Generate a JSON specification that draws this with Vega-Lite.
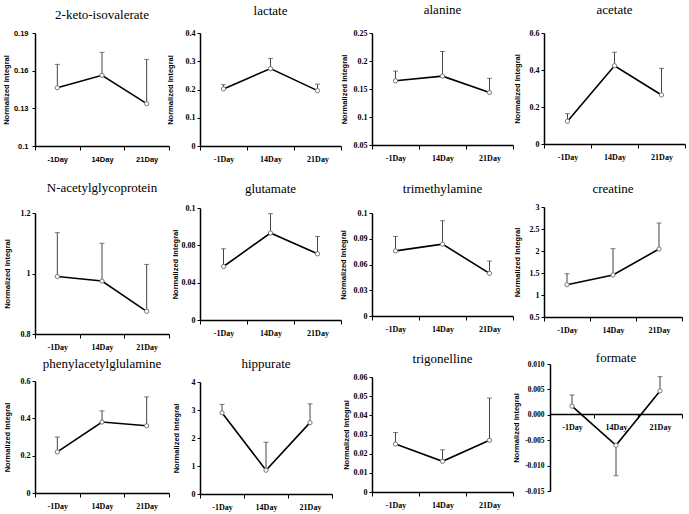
{
"$schema":"https://vega.github.io/schema/vega-lite/v6.json",
"autosize":{"type":"none"},
"padding":{"left":35,"top":33,"right":654,"bottom":481},
"background":"white",
"data":{"values":[
{"m":"2-keto-isovalerate","day":"-1Day","mean":0.1464,"err":0.165},
{"m":"2-keto-isovalerate","day":"14Day","mean":0.1563,"err":0.1746},
{"m":"2-keto-isovalerate","day":"21Day","mean":0.1337,"err":0.169},
{"m":"lactate","day":"-1Day","mean":0.202,"err":0.217},
{"m":"lactate","day":"14Day","mean":0.274,"err":0.31},
{"m":"lactate","day":"21Day","mean":0.196,"err":0.219},
{"m":"alanine","day":"-1Day","mean":0.1646,"err":0.182},
{"m":"alanine","day":"14Day","mean":0.173,"err":0.217},
{"m":"alanine","day":"21Day","mean":0.1437,"err":0.169},
{"m":"acetate","day":"-1Day","mean":0.123,"err":0.164},
{"m":"acetate","day":"14Day","mean":0.423,"err":0.496},
{"m":"acetate","day":"21Day","mean":0.265,"err":0.409},
{"m":"N-acetylglycoprotein","day":"-1Day","mean":0.99,"err":1.135},
{"m":"N-acetylglycoprotein","day":"14Day","mean":0.975,"err":1.1},
{"m":"N-acetylglycoprotein","day":"21Day","mean":0.875,"err":1.03},
{"m":"glutamate","day":"-1Day","mean":0.0573,"err":0.0763},
{"m":"glutamate","day":"14Day","mean":0.0932,"err":0.1139},
{"m":"glutamate","day":"21Day","mean":0.0709,"err":0.0895},
{"m":"trimethylamine","day":"-1Day","mean":0.0759,"err":0.0927},
{"m":"trimethylamine","day":"14Day","mean":0.0837,"err":0.111},
{"m":"trimethylamine","day":"21Day","mean":0.0497,"err":0.0641},
{"m":"creatine","day":"-1Day","mean":1.234,"err":1.484},
{"m":"creatine","day":"14Day","mean":1.455,"err":2.052},
{"m":"creatine","day":"21Day","mean":2.045,"err":2.636},
{"m":"phenylacetylglulamine","day":"-1Day","mean":0.22,"err":0.3},
{"m":"phenylacetylglulamine","day":"14Day","mean":0.38,"err":0.44},
{"m":"phenylacetylglulamine","day":"21Day","mean":0.36,"err":0.515},
{"m":"hippurate","day":"-1Day","mean":2.9,"err":3.2},
{"m":"hippurate","day":"14Day","mean":0.85,"err":1.85},
{"m":"hippurate","day":"21Day","mean":2.55,"err":3.22},
{"m":"trigonelline","day":"-1Day","mean":0.025,"err":0.031},
{"m":"trigonelline","day":"14Day","mean":0.016,"err":0.022},
{"m":"trigonelline","day":"21Day","mean":0.027,"err":0.049},
{"m":"formate","day":"-1Day","mean":0.0017,"err":0.0039},
{"m":"formate","day":"14Day","mean":-0.006,"err":-0.012},
{"m":"formate","day":"21Day","mean":0.0047,"err":0.0075}
]},
"columns":4,
"align":"each",
"bounds":"flush",
"spacing":{"row":61,"column":31},
"concat":[
{"width":134,"height":113,"title":{"text":"2-keto-isovalerate","offset":7.5},
 "transform":[{"filter":{"field":"m","equal":"2-keto-isovalerate"}}],
 "encoding":{
  "x":{"field":"day","type":"nominal","sort":["-1Day","14Day","21Day"],"scale":{"paddingInner":0,"paddingOuter":0},"axis":{"labelFont":"Liberation Sans","labelFontSize":7.5}},
  "y":{"field":"mean","type":"quantitative","scale":{"domain":[0.1,0.19],"zero":false,"nice":false},"axis":{"values":[0.1,0.13,0.16,0.19],"format":"~g","labelFont":"Liberation Sans","labelFontSize":7.5,"labelPadding":4,"titleX":-24.8}}},
 "layer":[
  {"mark":{"type":"rule","color":"#444","strokeWidth":1},"encoding":{"y2":{"field":"err"}}},
  {"mark":{"type":"tick","color":"#444","size":5,"thickness":1},"encoding":{"y":{"field":"err","type":"quantitative","title":"Normalized Integral","scale":{"domain":[0.1,0.19],"zero":false,"nice":false}}}},
  {"mark":{"type":"line","color":"#000","strokeWidth":1.6},"encoding":{}},
  {"mark":{"type":"point","shape":"circle","filled":true,"fill":"white","stroke":"#777","strokeWidth":1,"size":18,"opacity":1},"encoding":{}}]},
{"width":141,"height":113,"title":{"text":"lactate","offset":11.5},
 "transform":[{"filter":{"field":"m","equal":"lactate"}}],
 "encoding":{
  "x":{"field":"day","type":"nominal","sort":["-1Day","14Day","21Day"],"scale":{"paddingInner":0,"paddingOuter":0}},
  "y":{"field":"mean","type":"quantitative","scale":{"domain":[0,0.4],"zero":false,"nice":false},"axis":{"values":[0,0.1,0.2,0.3,0.4],"format":"~g","titleX":-25.8}}},
 "layer":[
  {"mark":{"type":"rule","color":"#444","strokeWidth":1},"encoding":{"y2":{"field":"err"}}},
  {"mark":{"type":"tick","color":"#444","size":5,"thickness":1},"encoding":{"y":{"field":"err","type":"quantitative","title":"Normalized Integral","scale":{"domain":[0,0.4],"zero":false,"nice":false}}}},
  {"mark":{"type":"line","color":"#000","strokeWidth":1.6},"encoding":{}},
  {"mark":{"type":"point","shape":"circle","filled":true,"fill":"white","stroke":"#777","strokeWidth":1,"size":18,"opacity":1},"encoding":{}}]},
{"width":141,"height":112,"title":{"text":"alanine","offset":12.5},
 "transform":[{"filter":{"field":"m","equal":"alanine"}}],
 "encoding":{
  "x":{"field":"day","type":"nominal","sort":["-1Day","14Day","21Day"],"scale":{"paddingInner":0,"paddingOuter":0}},
  "y":{"field":"mean","type":"quantitative","scale":{"domain":[0.05,0.25],"zero":false,"nice":false},"axis":{"values":[0.05,0.1,0.15,0.2,0.25],"format":"~g","titleX":-23.8}}},
 "layer":[
  {"mark":{"type":"rule","color":"#444","strokeWidth":1},"encoding":{"y2":{"field":"err"}}},
  {"mark":{"type":"tick","color":"#444","size":5,"thickness":1},"encoding":{"y":{"field":"err","type":"quantitative","title":"Normalized Integral","scale":{"domain":[0.05,0.25],"zero":false,"nice":false}}}},
  {"mark":{"type":"line","color":"#000","strokeWidth":1.6},"encoding":{}},
  {"mark":{"type":"point","shape":"circle","filled":true,"fill":"white","stroke":"#777","strokeWidth":1,"size":18,"opacity":1},"encoding":{}}]},
{"width":141,"height":111,"title":{"text":"acetate","offset":12.5},
 "transform":[{"filter":{"field":"m","equal":"acetate"}}],
 "encoding":{
  "x":{"field":"day","type":"nominal","sort":["-1Day","14Day","21Day"],"scale":{"paddingInner":0,"paddingOuter":0}},
  "y":{"field":"mean","type":"quantitative","scale":{"domain":[0,0.6],"zero":false,"nice":false},"axis":{"values":[0,0.2,0.4,0.6],"format":"~g","titleX":-22.8}}},
 "layer":[
  {"mark":{"type":"rule","color":"#444","strokeWidth":1},"encoding":{"y2":{"field":"err"}}},
  {"mark":{"type":"tick","color":"#444","size":5,"thickness":1},"encoding":{"y":{"field":"err","type":"quantitative","title":"Normalized Integral","scale":{"domain":[0,0.6],"zero":false,"nice":false}}}},
  {"mark":{"type":"line","color":"#000","strokeWidth":1.6},"encoding":{}},
  {"mark":{"type":"point","shape":"circle","filled":true,"fill":"white","stroke":"#777","strokeWidth":1,"size":18,"opacity":1},"encoding":{}}]},
{"width":134,"height":127,"title":{"text":"N-acetylglycoprotein","offset":12},
 "transform":[{"filter":{"field":"m","equal":"N-acetylglycoprotein"}}],
 "encoding":{
  "x":{"field":"day","type":"nominal","sort":["-1Day","14Day","21Day"],"scale":{"paddingInner":0,"paddingOuter":0}},
  "y":{"field":"mean","type":"quantitative","scale":{"domain":[0.8,1.2],"zero":false,"nice":false,"range":[127,6]},"axis":{"values":[0.8,1,1.2],"format":"~g","titleX":-23.8}}},
 "layer":[
  {"mark":{"type":"rule","color":"#444","strokeWidth":1},"encoding":{"y2":{"field":"err"}}},
  {"mark":{"type":"tick","color":"#444","size":5,"thickness":1},"encoding":{"y":{"field":"err","type":"quantitative","title":"Normalized Integral","scale":{"domain":[0.8,1.2],"zero":false,"nice":false,"range":[127,6]}}}},
  {"mark":{"type":"line","color":"#000","strokeWidth":1.6},"encoding":{}},
  {"mark":{"type":"point","shape":"circle","filled":true,"fill":"white","stroke":"#777","strokeWidth":1,"size":18,"opacity":1},"encoding":{}}]},
{"width":141,"height":113,"title":{"text":"glutamate","offset":8.5},
 "transform":[{"filter":{"field":"m","equal":"glutamate"}}],
 "encoding":{
  "x":{"field":"day","type":"nominal","sort":["-1Day","14Day","21Day"],"scale":{"paddingInner":0,"paddingOuter":0}},
  "y":{"field":"mean","type":"quantitative","scale":{"domain":[0,0.12],"zero":false,"nice":false,"range":[113,1]},"axis":{"values":[0,0.04,0.08,0.12],"format":"~g","titleX":-20.8}}},
 "layer":[
  {"mark":{"type":"rule","color":"#444","strokeWidth":1},"encoding":{"y2":{"field":"err"}}},
  {"mark":{"type":"tick","color":"#444","size":5,"thickness":1},"encoding":{"y":{"field":"err","type":"quantitative","title":"Normalized Integral","scale":{"domain":[0,0.12],"zero":false,"nice":false,"range":[113,1]}}}},
  {"mark":{"type":"line","color":"#000","strokeWidth":1.6},"encoding":{}},
  {"mark":{"type":"point","shape":"circle","filled":true,"fill":"white","stroke":"#777","strokeWidth":1,"size":18,"opacity":1},"encoding":{}}]},
{"width":141,"height":109,"title":{"text":"trimethylamine","offset":11},
 "transform":[{"filter":{"field":"m","equal":"trimethylamine"}}],
 "encoding":{
  "x":{"field":"day","type":"nominal","sort":["-1Day","14Day","21Day"],"scale":{"paddingInner":0,"paddingOuter":0}},
  "y":{"field":"mean","type":"quantitative","scale":{"domain":[0,0.12],"zero":false,"nice":false,"range":[109,6]},"axis":{"values":[0,0.03,0.06,0.09,0.12],"format":"~g","titleX":-24.8}}},
 "layer":[
  {"mark":{"type":"rule","color":"#444","strokeWidth":1},"encoding":{"y2":{"field":"err"}}},
  {"mark":{"type":"tick","color":"#444","size":5,"thickness":1},"encoding":{"y":{"field":"err","type":"quantitative","title":"Normalized Integral","scale":{"domain":[0,0.12],"zero":false,"nice":false,"range":[109,6]}}}},
  {"mark":{"type":"line","color":"#000","strokeWidth":1.6},"encoding":{}},
  {"mark":{"type":"point","shape":"circle","filled":true,"fill":"white","stroke":"#777","strokeWidth":1,"size":18,"opacity":1},"encoding":{}}]},
{"width":138,"height":110,"title":{"text":"creatine","offset":7.5},
 "transform":[{"filter":{"field":"m","equal":"creatine"}}],
 "encoding":{
  "x":{"field":"day","type":"nominal","sort":["-1Day","14Day","21Day"],"scale":{"paddingInner":0,"paddingOuter":0}},
  "y":{"field":"mean","type":"quantitative","scale":{"domain":[0.5,3],"zero":false,"nice":false},"axis":{"values":[0.5,1,1.5,2,2.5,3],"format":"~g","titleX":-22.8}}},
 "layer":[
  {"mark":{"type":"rule","color":"#444","strokeWidth":1},"encoding":{"y2":{"field":"err"}}},
  {"mark":{"type":"tick","color":"#444","size":5,"thickness":1},"encoding":{"y":{"field":"err","type":"quantitative","title":"Normalized Integral","scale":{"domain":[0.5,3],"zero":false,"nice":false}}}},
  {"mark":{"type":"line","color":"#000","strokeWidth":1.6},"encoding":{}},
  {"mark":{"type":"point","shape":"circle","filled":true,"fill":"white","stroke":"#777","strokeWidth":1,"size":18,"opacity":1},"encoding":{}}]},
{"width":134,"height":98,"title":{"text":"phenylacetylglulamine","offset":6.5},
 "transform":[{"filter":{"field":"m","equal":"phenylacetylglulamine"}}],
 "encoding":{
  "x":{"field":"day","type":"nominal","sort":["-1Day","14Day","21Day"],"scale":{"paddingInner":0,"paddingOuter":0}},
  "y":{"field":"mean","type":"quantitative","scale":{"domain":[0,0.6],"zero":false,"nice":false,"range":[98,-14]},"axis":{"values":[0,0.2,0.4,0.6],"format":"~g","titleX":-23.8}}},
 "layer":[
  {"mark":{"type":"rule","color":"#444","strokeWidth":1},"encoding":{"y2":{"field":"err"}}},
  {"mark":{"type":"tick","color":"#444","size":5,"thickness":1},"encoding":{"y":{"field":"err","type":"quantitative","title":"Normalized Integral","scale":{"domain":[0,0.6],"zero":false,"nice":false,"range":[98,-14]}}}},
  {"mark":{"type":"line","color":"#000","strokeWidth":1.6},"encoding":{}},
  {"mark":{"type":"point","shape":"circle","filled":true,"fill":"white","stroke":"#777","strokeWidth":1,"size":18,"opacity":1},"encoding":{}}]},
{"width":132,"height":99,"title":{"text":"hippurate","offset":7.5},
 "transform":[{"filter":{"field":"m","equal":"hippurate"}}],
 "encoding":{
  "x":{"field":"day","type":"nominal","sort":["-1Day","14Day","21Day"],"scale":{"paddingInner":0,"paddingOuter":0}},
  "y":{"field":"mean","type":"quantitative","scale":{"domain":[0,4],"zero":false,"nice":false,"range":[99,-13]},"axis":{"values":[0,1,2,3,4],"format":"~g","titleX":-19.8}}},
 "layer":[
  {"mark":{"type":"rule","color":"#444","strokeWidth":1},"encoding":{"y2":{"field":"err"}}},
  {"mark":{"type":"tick","color":"#444","size":5,"thickness":1},"encoding":{"y":{"field":"err","type":"quantitative","title":"Normalized Integral","scale":{"domain":[0,4],"zero":false,"nice":false,"range":[99,-13]}}}},
  {"mark":{"type":"line","color":"#000","strokeWidth":1.6},"encoding":{}},
  {"mark":{"type":"point","shape":"circle","filled":true,"fill":"white","stroke":"#777","strokeWidth":1,"size":18,"opacity":1},"encoding":{}}]},
{"width":141,"height":97,"title":{"text":"trigonelline","offset":7.5},
 "transform":[{"filter":{"field":"m","equal":"trigonelline"}}],
 "encoding":{
  "x":{"field":"day","type":"nominal","sort":["-1Day","14Day","21Day"],"scale":{"paddingInner":0,"paddingOuter":0}},
  "y":{"field":"mean","type":"quantitative","scale":{"domain":[0,0.06],"zero":false,"nice":false,"range":[97,-18]},"axis":{"values":[0,0.01,0.02,0.03,0.04,0.05,0.06],"format":"~g","titleX":-21.8}}},
 "layer":[
  {"mark":{"type":"rule","color":"#444","strokeWidth":1},"encoding":{"y2":{"field":"err"}}},
  {"mark":{"type":"tick","color":"#444","size":5,"thickness":1},"encoding":{"y":{"field":"err","type":"quantitative","title":"Normalized Integral","scale":{"domain":[0,0.06],"zero":false,"nice":false,"range":[97,-18]}}}},
  {"mark":{"type":"line","color":"#000","strokeWidth":1.6},"encoding":{}},
  {"mark":{"type":"point","shape":"circle","filled":true,"fill":"white","stroke":"#777","strokeWidth":1,"size":18,"opacity":1},"encoding":{}}]},
{"width":138,"height":96,"title":{"text":"formate","offset":-4.5,"dx":3},
 "transform":[{"filter":{"field":"m","equal":"formate"}}],
 "encoding":{
  "x":{"field":"day","type":"nominal","sort":["-1Day","14Day","21Day"],"scale":{"paddingInner":0,"paddingOuter":0,"range":[6,138]},"axis":{"offset":-77}},
  "y":{"field":"mean","type":"quantitative","scale":{"domain":[-0.015,0.01],"zero":false,"nice":false,"range":[96,-31]},"axis":{"values":[-0.015,-0.01,-0.005,0,0.005,0.01],"format":".3f","labelExpr":"replace(datum.label, '\u2212', '-')","labelFontSize":7.5,"labelPadding":3,"offset":-6,"titleX":-30}}},
 "layer":[
  {"mark":{"type":"rule","color":"#444","strokeWidth":1},"encoding":{"y2":{"field":"err"}}},
  {"mark":{"type":"tick","color":"#444","size":5,"thickness":1},"encoding":{"y":{"field":"err","type":"quantitative","title":"Normalized Integral","scale":{"domain":[-0.015,0.01],"zero":false,"nice":false,"range":[96,-31]}}}},
  {"mark":{"type":"line","color":"#000","strokeWidth":1.6},"encoding":{}},
  {"mark":{"type":"point","shape":"circle","filled":true,"fill":"white","stroke":"#777","strokeWidth":1,"size":18,"opacity":1},"encoding":{}}]}
],
"config":{
 "font":"Liberation Serif",
 "view":{"stroke":null},
 "axis":{"grid":false,"domainColor":"#000","domainWidth":1.5,"tickColor":"#000","tickWidth":1,"tickSize":3,"labelFont":"Liberation Serif","labelFontWeight":"bold","labelFontSize":8,"labelColor":"#000","titleFont":"Liberation Sans","titleFontWeight":"bold","titleFontSize":7.5,"titleColor":"#000"},
 "axisX":{"labelPadding":5.5,"tickBand":"extent","labelAngle":0,"tickSize":4,"title":null},
 "axisY":{"labelPadding":2,"title":"Normalized Integral"},
 "title":{"font":"Liberation Serif","fontSize":13,"fontWeight":"normal","color":"#000","anchor":"middle","frame":"group"}
}
}
